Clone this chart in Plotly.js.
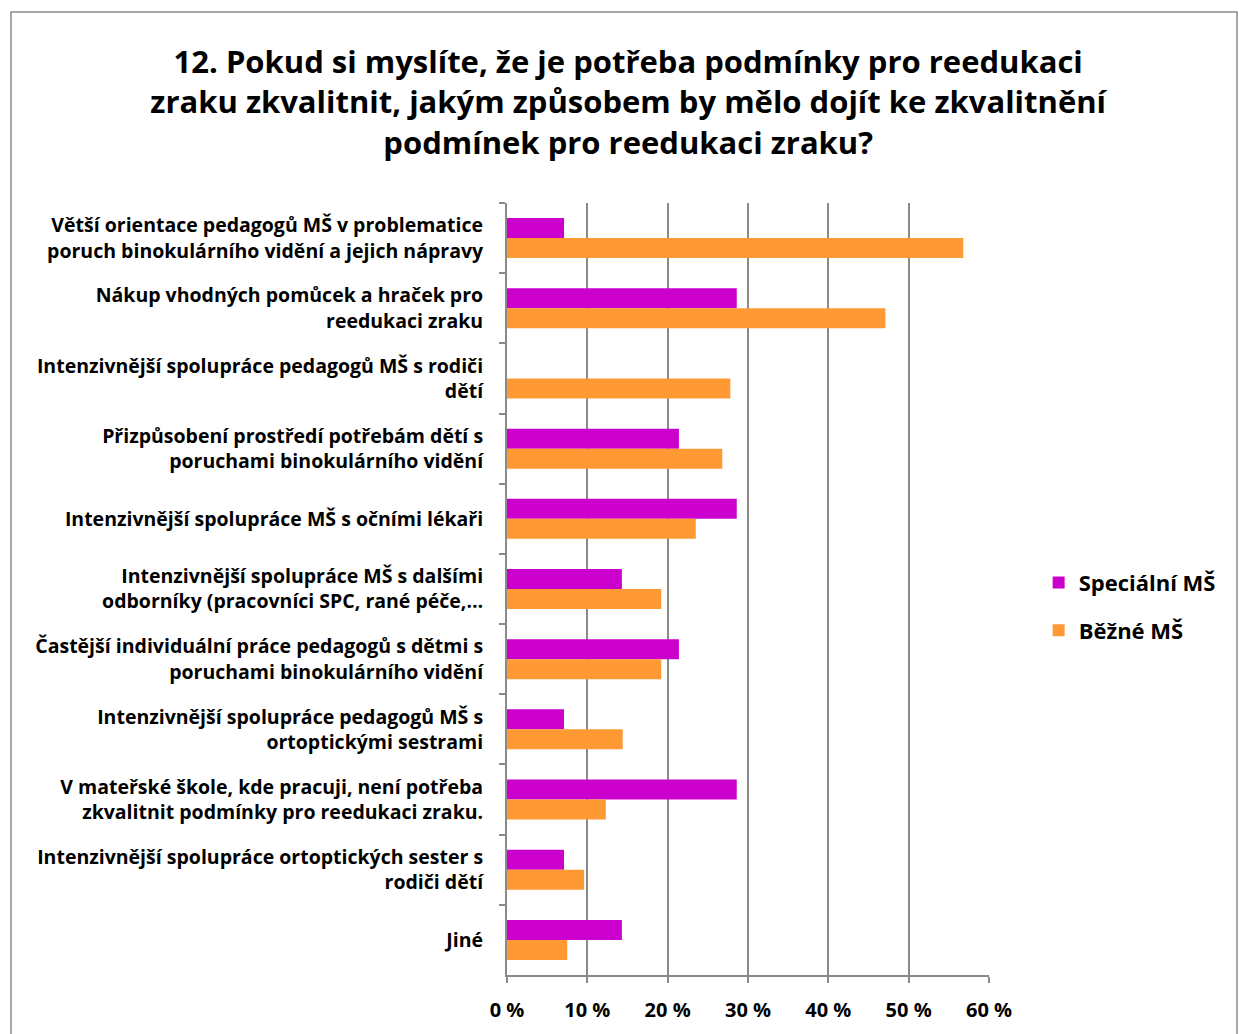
<!DOCTYPE html>
<html>
<head>
<meta charset="utf-8">
<script src="https://cdn.plot.ly/plotly-3.0.1.min.js"></script>
<style>html,body{margin:0;padding:0;background:#fff;}#chart{width:1239px;height:1034px;}</style>
</head>
<body>
<div id="chart"></div>
<script>
const categories = [
  "Větší orientace pedagogů MŠ v problematice<br>poruch binokulárního vidění a jejich nápravy",
  "Nákup vhodných pomůcek a hraček pro<br>reedukaci zraku",
  "Intenzivnější spolupráce pedagogů MŠ s rodiči<br>dětí",
  "Přizpůsobení prostředí potřebám dětí s<br>poruchami binokulárního vidění",
  "Intenzivnější spolupráce MŠ s očními lékaři",
  "Intenzivnější spolupráce MŠ s dalšími<br>odborníky (pracovníci SPC, rané péče,…",
  "Častější individuální práce pedagogů s dětmi s<br>poruchami binokulárního vidění",
  "Intenzivnější spolupráce pedagogů MŠ s<br>ortoptickými sestrami",
  "V mateřské škole, kde pracuji, není potřeba<br>zkvalitnit podmínky pro reedukaci zraku.",
  "Intenzivnější spolupráce ortoptických sester s<br>rodiči dětí",
  "Jiné"
];
const specialniMS = [7.1, 28.6, 0, 21.4, 28.6, 14.3, 21.4, 7.1, 28.6, 7.1, 14.3];
const bezneMS = [56.8, 47.1, 27.8, 26.8, 23.5, 19.2, 19.2, 14.4, 12.3, 9.6, 7.5];
const xTickVals = [0, 10, 20, 30, 40, 50, 60];
const xTickText = ["0 %", "10 %", "20 %", "30 %", "40 %", "50 %", "60 %"];
const titleText = "12. Pokud si myslíte, že je potřeba podmínky pro reedukaci<br>zraku zkvalitnit, jakým způsobem by mělo dojít ke zkvalitnění<br>podmínek pro reedukaci zraku?";

const FONT = "'Open Sans', Lato, sans-serif";
const traces = [
  {type:"bar", orientation:"h", name:"Speciální MŠ", y:categories, x:specialniMS,
   marker:{color:"#CC00CC"}, legendgroup:"a", hoverinfo:"x+y"},
  {type:"bar", orientation:"h", name:"Běžné MŠ", y:categories, x:bezneMS,
   marker:{color:"#FF9933"}, legendgroup:"b", hoverinfo:"x+y"}
];
const layout = {
  width:1239, height:1034,
  margin:{l:507, r:250, t:203, b:59},
  paper_bgcolor:"#fff", plot_bgcolor:"#fff",
  barmode:"group", bargap:0.43, bargroupgap:0,
  font:{family:FONT, color:"#000"},
  title:{text:titleText, x:0.507, xref:"container", xanchor:"center",
         y:1-73/1034, yref:"container", yanchor:"top",
         font:{family:FONT, size:31, weight:"bold", color:"#000"}},
  xaxis:{range:[0,60], tickvals:xTickVals, ticktext:xTickText,
         showgrid:true, gridcolor:"#8a8a8a", gridwidth:2,
         showline:true, linecolor:"#8a8a8a", linewidth:2,
         ticks:"outside", ticklen:6, tickcolor:"#8a8a8a", tickwidth:2,
         ticklabelstandoff:10,
         tickfont:{family:FONT, size:20, weight:"bold", color:"#000"},
         zeroline:false, fixedrange:true},
  yaxis:{type:"category", autorange:"reversed", tickson:"boundaries",
         showgrid:false, showline:true, linecolor:"#8a8a8a", linewidth:2,
         ticks:"outside", ticklen:6, tickcolor:"#8a8a8a", tickwidth:2,
         ticklabelstandoff:18,
         tickfont:{family:FONT, size:19.5, weight:"bold", color:"#000"},
         fixedrange:true},
  legend:{x:1.103, xanchor:"left", y:0.477, yanchor:"middle",
          font:{family:FONT, size:22, weight:"bold", color:"#000"},
          tracegroupgap:16, itemwidth:30},
  showlegend:true,
  shapes:[{type:"rect", xref:"paper", yref:"paper",
           x0:(11-507)/482, x1:(1237-507)/482, y0:-0.2, y1:(975-12)/772,
           line:{color:"#8a8a8a", width:1.5}, fillcolor:"rgba(0,0,0,0)", layer:"below"}]
};
Plotly.newPlot("chart", traces, layout, {displayModeBar:false, staticPlot:true});
</script>
</body>
</html>
